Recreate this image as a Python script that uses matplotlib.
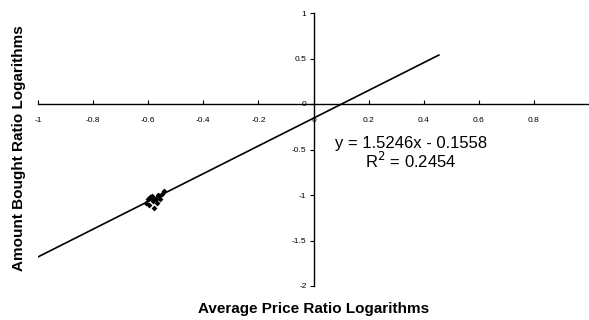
import matplotlib
matplotlib.use("Agg")
import matplotlib.pyplot as plt
import numpy as np

plt.rcParams['font.family'] = ['Liberation Sans', 'DejaVu Sans']

# Log ratios: average price (x) vs amount bought (y)
price_log = [-0.607, -0.600, -0.593, -0.596, -0.585, -0.582, -0.578,
             -0.571, -0.567, -0.560, -0.556, -0.549, -0.542, -0.564]
amount_log = [-1.088, -1.044, -1.022, -1.110, -1.011, -1.066, -1.143,
              -1.044, -1.088, -1.011, -1.044, -0.989, -0.956, -1.000]

# Linear trendline
slope = 1.5246
intercept = -0.1558
r_squared = 0.2454
trend_x = [-1.0, 0.455]

x_ticks = [-1, -0.8, -0.6, -0.4, -0.2, 0, 0.2, 0.4, 0.6, 0.8]
y_ticks = [-2, -1.5, -1, -0.5, 0, 0.5, 1]

fig = plt.figure(figsize=(5.89, 3.2), dpi=100)
ax = fig.add_axes([38/589, 34/320, 551/589, 273/320])
ax.set_xlim(-1, 1)
ax.set_ylim(-2, 1)

tx = np.array(trend_x)
ax.plot(tx, slope * tx + intercept, color='black', lw=1.2, zorder=2)
ax.scatter(price_log, amount_log, marker='D', s=9, color='black', zorder=3, linewidths=0)

for side in ('top', 'right'):
    ax.spines[side].set_visible(False)
ax.spines['left'].set_position(('data', 0))
ax.spines['bottom'].set_position(('data', 0))
ax.spines['left'].set_linewidth(1.0)
ax.spines['bottom'].set_linewidth(1.0)

ax.set_xticks(x_ticks)
ax.set_xticklabels([f"{v:g}" for v in x_ticks])
ax.set_yticks(y_ticks)
ax.set_yticklabels([f"{v:g}" for v in y_ticks])
ax.tick_params(axis='x', direction='in', length=3, width=0.8, labelsize=6, pad=9)
ax.tick_params(axis='y', direction='out', length=3, width=0.8, labelsize=6, pad=2)

sign = '-' if intercept < 0 else '+'
ax.text(0.353, -0.43, f"y = {slope:.4f}x {sign} {abs(intercept):.4f}",
        fontsize=12, ha='center', va='center')
ax.text(0.353, -0.626, f"R$^2$ = {r_squared:.4f}",
        fontsize=12, ha='center', va='center')

fig.text(314/589, 1 - 309/320, "Average Price Ratio Logarithms",
         fontsize=11, fontweight='bold', ha='center', va='center')
fig.text(19/589, 1 - 148/320, "Amount Bought Ratio Logarithms",
         fontsize=11, fontweight='bold', ha='center', va='center', rotation=90)

fig.savefig("out.png", dpi=100)
